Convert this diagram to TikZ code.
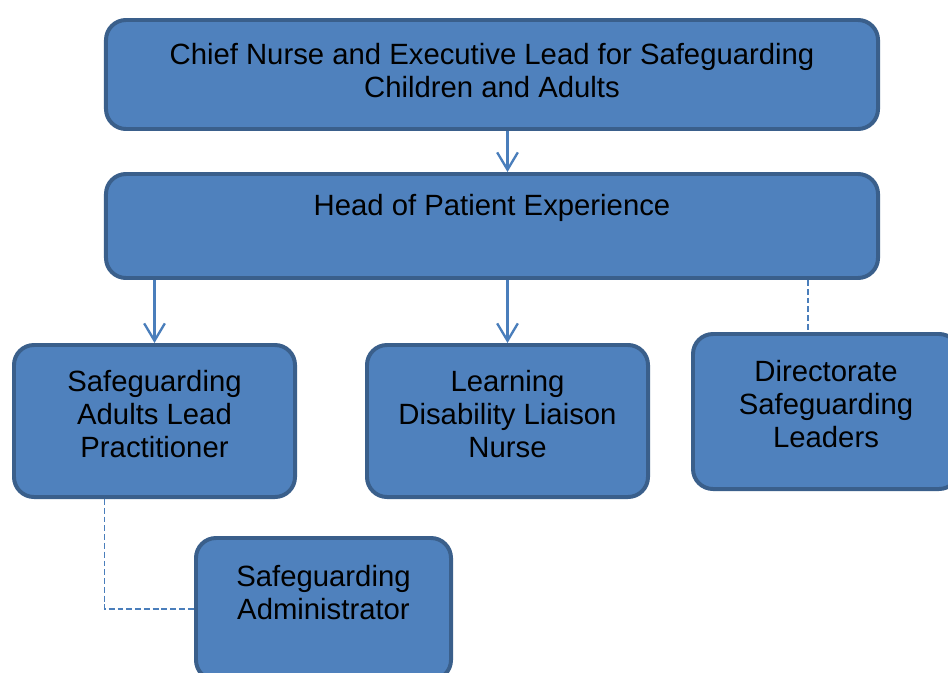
\documentclass[tikz,border=0pt]{standalone}
\usepackage{fontspec}
\setmainfont{Liberation Sans}
\usetikzlibrary{arrows.meta,positioning}

\definecolor{boxfill}{HTML}{4F81BD}
\definecolor{boxline}{HTML}{3A5F8B}
\definecolor{linkblue}{HTML}{4A7EBB}

\begin{document}
\begin{tikzpicture}[x=0.03cm,y=-0.03cm,>={Straight Barb[length=5.2mm,width=6.2mm]},
    role/.style={draw=boxline,fill=boxfill,line width=3.4pt,rounded corners=6mm,
        align=center,inner sep=0pt,font=\fontsize{25}{28.2}\selectfont},
    link/.style={draw=linkblue,line width=2pt},
    dotlink/.style={draw=linkblue,line width=1.6pt,dash pattern=on 5pt off 2.5pt}]

            \useasboundingbox (0,0) rectangle (948,673);
            \clip (0,0) rectangle (948,673);

            \node[role,minimum width=23.16cm,minimum height=3.27cm,text depth=6.8pt] (chief) at (492,74.5)
                {Chief Nurse and Executive Lead for Safeguarding\\Children and Adults};

            \node[role,minimum width=23.16cm,minimum height=3.12cm] (head) at (492,226)
                {Head of Patient Experience\\\strut};

            \node[role,minimum width=8.43cm,minimum height=4.56cm,text depth=12pt] (sal) at (154.5,421)
                {Safeguarding\\Adults Lead\\Practitioner};

            \node[role,minimum width=8.43cm,minimum height=4.56cm,text depth=12pt] (ldn) at (507.5,421)
                {Learning\\Disability Liaison\\Nurse};

            \node[role,minimum width=7.98cm,minimum height=4.65cm,text depth=13.6pt] (dsl) at (826,411.5)
                {Directorate\\Safeguarding\\Leaders};

            \node[role,minimum width=7.65cm,minimum height=4.26cm,text depth=0pt] (adm) at (323.5,609)
                {Safeguarding\\Administrator\\\strut};

            \coordinate (dslup) at ([xshift=-0.54cm]dsl.north);
            \coordinate (saldown) at ([xshift=-1.5cm]sal.south);

            \draw[link,->] (chief.south -| ldn.north) -- (head.north -| ldn.north);
            \draw[link,->] (head.south -| sal.north) -- (sal.north);
            \draw[link,->] (head.south -| ldn.north) -- (ldn.north);
            \draw[dotlink] (dslup |- head.south) -- (dslup);
            \draw[dotlink] (saldown) |- (adm.west);

\end{tikzpicture}
\end{document}
